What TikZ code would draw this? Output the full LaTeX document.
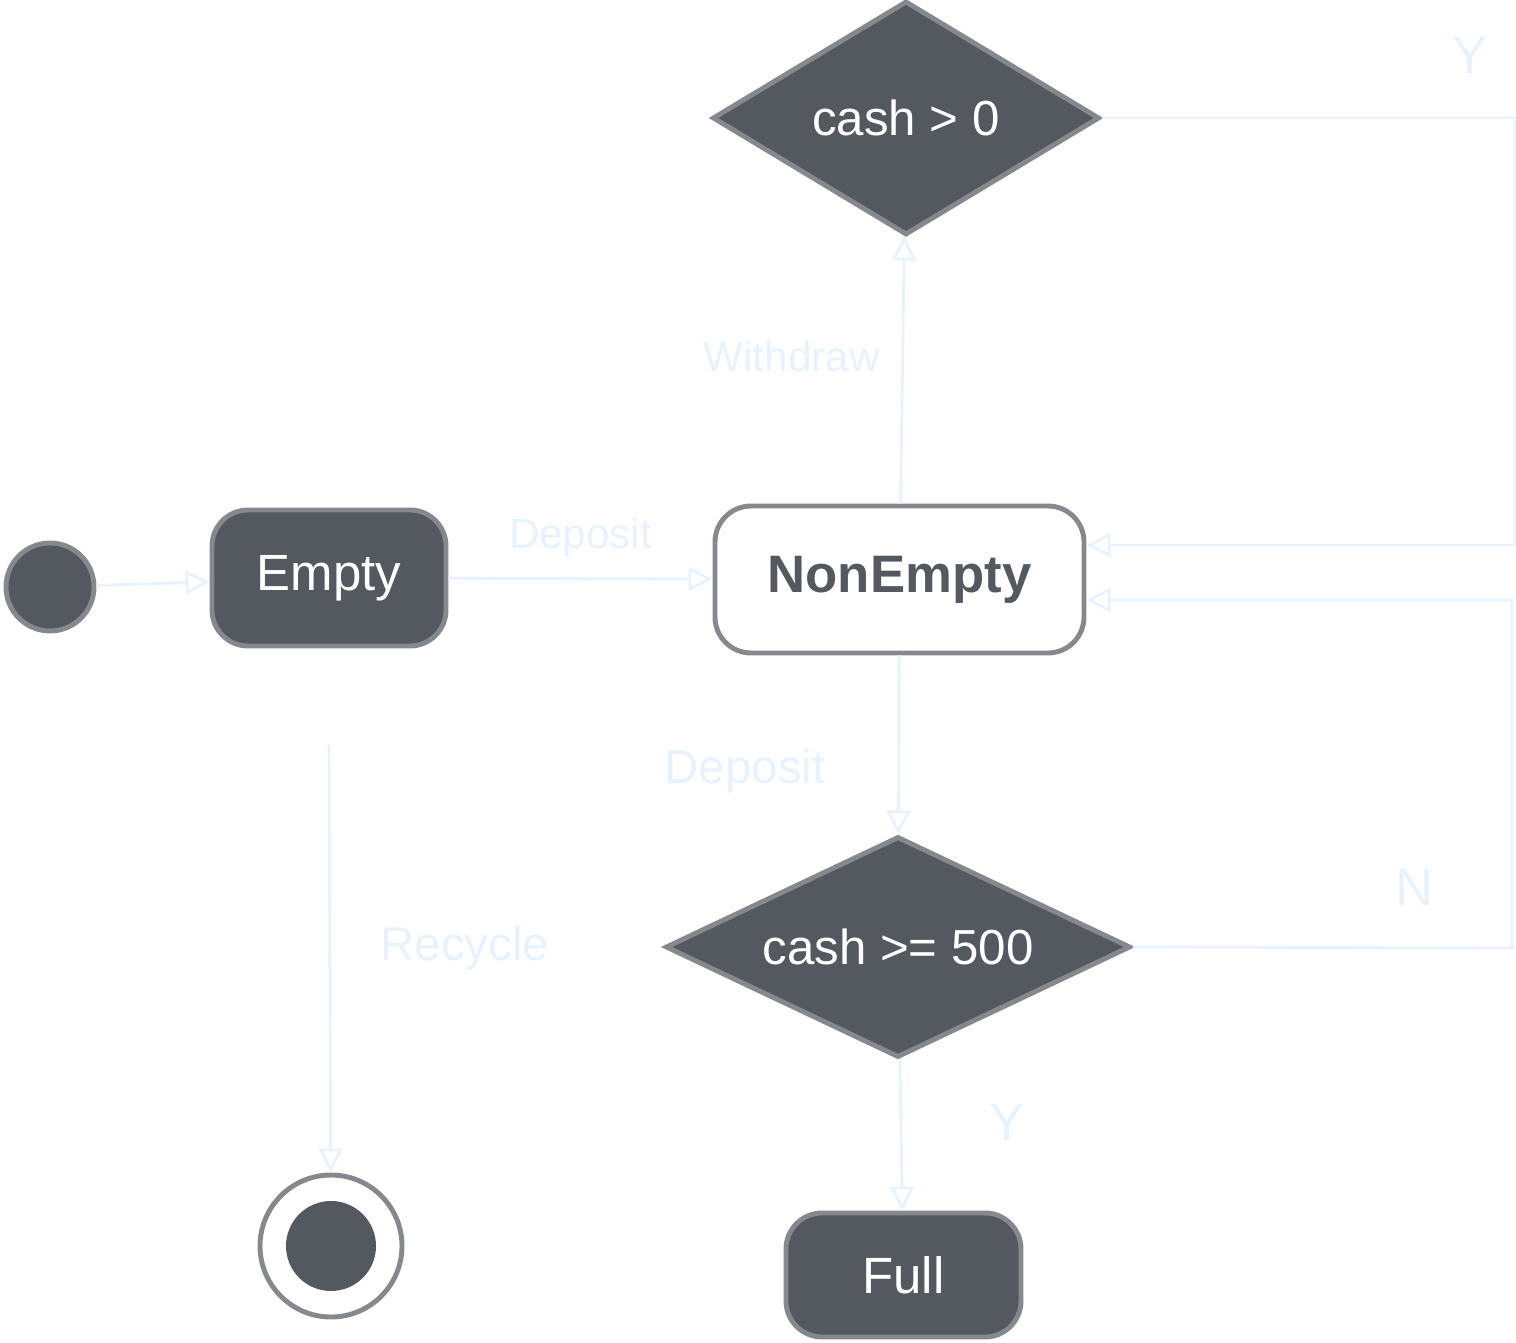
\documentclass[tikz,border=0pt]{standalone}
\usepackage{fontspec}
\setmainfont{Liberation Sans}
\usetikzlibrary{shapes.geometric,arrows.meta}
\definecolor{slate}{RGB}{84,89,96}
\definecolor{rim}{RGB}{133,136,141}
\definecolor{wire}{RGB}{232,242,252}
\begin{document}
\begin{tikzpicture}
        \tikzstyle{state}=[rectangle,rounded corners=0.36cm,line width=1.4pt,draw=rim,fill=slate,text=white,font=\fontsize{14.5}{16}\selectfont]
        \tikzstyle{decision}=[diamond,inner sep=0pt,line width=1.4pt,draw=rim,fill=slate,text=white,font=\fontsize{14}{16}\selectfont]
        \tikzstyle{dot}=[circle,inner sep=0pt,line width=1.4pt,draw=rim,fill=slate]
        \tikzstyle{edge}=[draw=wire,line width=0.8pt,-{Triangle[open,length=0.24cm,width=0.24cm]}]
        \tikzstyle{guard}=[text=wire,font=\fontsize{12}{14}\selectfont]
        \useasboundingbox (0,0) rectangle (15.16,13.42);
        \begin{scope}
                \node [dot,minimum size=0.88cm] (init) at (0.50,7.55) {};
                \node [state,minimum width=2.34cm,minimum height=1.36cm] (empty) at (3.29,7.64) {Empty};
                \node [state,fill=white,text=slate,minimum width=3.69cm,minimum height=1.47cm,font=\fontsize{15}{17}\selectfont\bfseries] (nonempty) at (8.995,7.625) {NonEmpty};
                \node [decision,aspect=1.65,minimum width=3.87cm,minimum height=2.34cm] (pos) at (9.06,12.24) {cash > 0};
                \node [decision,aspect=2.1,minimum width=4.65cm,minimum height=2.21cm] (big) at (8.98,3.95) {cash >= 500};
                \node [state,minimum width=2.35cm,minimum height=1.24cm] (full) at (9.035,0.67) {Full};
                \node [circle,inner sep=0pt,line width=1.4pt,draw=rim,fill=white,minimum size=1.42cm] (final) at (3.31,0.96) {};
                \node [circle,inner sep=0pt,fill=slate,minimum size=0.90cm] (finaldot) at (final) {};
                \coordinate (ytop) at (15.15,12.24);
                \coordinate (ybot) at (15.15,7.97);
                \coordinate (nbot) at (15.12,3.94);
                \coordinate (ntop) at (15.12,7.42);
                \path[edge] (init) edge node {} (empty);
                \path[edge] (empty) edge node[guard,above=0.08cm] {Deposit} (nonempty);
                \path[edge] (nonempty) edge node[guard,left=0.1cm,pos=0.55] {Withdraw} (pos);
                \path[edge] (pos.east) -- (ytop) -- (ybot) -- (nonempty.east |- ybot);
                \path[edge] (nonempty) edge node[guard,left=0.6cm,pos=0.65,font=\fontsize{13.5}{16}\selectfont] {Deposit} (big);
                \path[edge] (big.east) -- (nbot) -- (ntop) -- (nonempty.east |- ntop);
                \path[edge] (big) edge node[guard,right=0.75cm,pos=0.42,font=\fontsize{15}{17}\selectfont] {Y} (full);
                \path[edge] (empty.south |- 0,5.97) -- (final);
                \node [guard,font=\fontsize{13.5}{16}\selectfont] (recycle) at (4.65,3.94) {Recycle};
                \node [guard,font=\fontsize{15}{17}\selectfont] (ypos) at (14.70,12.87) {Y};
                \node [guard,font=\fontsize{15}{17}\selectfont] (nbig) at (14.15,4.55) {N};
        \end{scope}
\end{tikzpicture}
\end{document}
